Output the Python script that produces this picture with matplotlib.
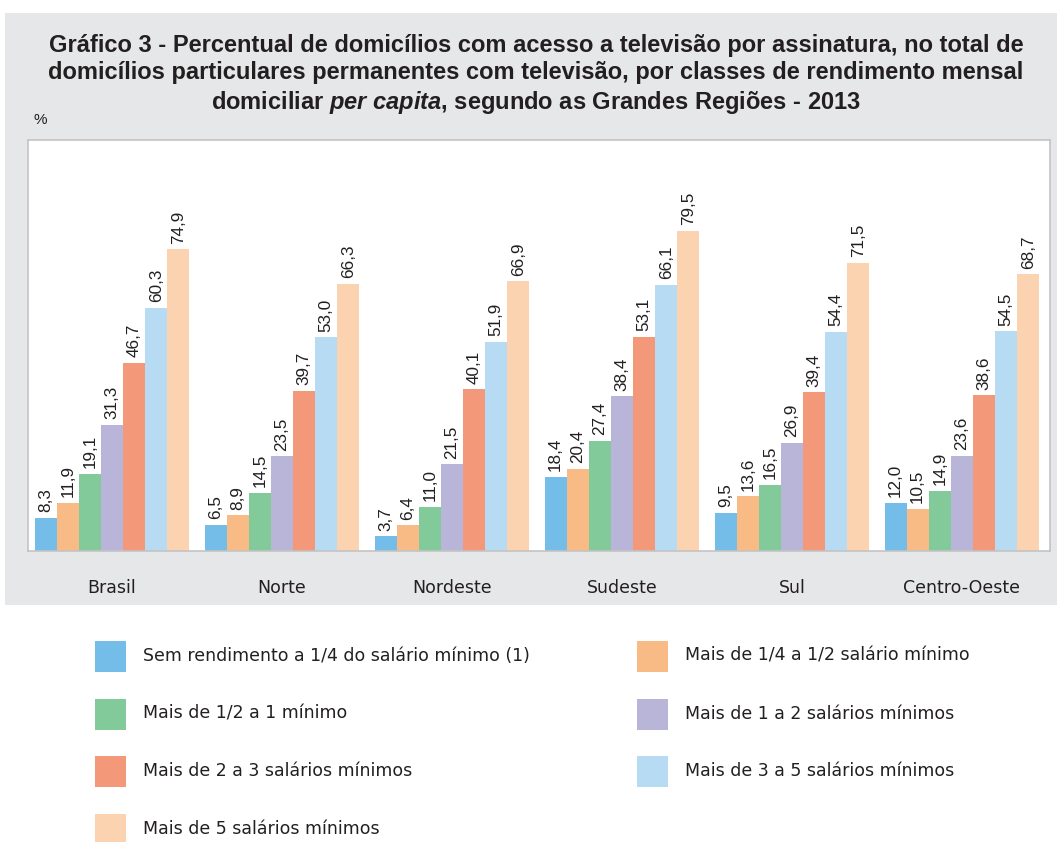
import matplotlib
matplotlib.use("Agg")
import matplotlib.pyplot as plt
from matplotlib.patches import Rectangle
import numpy as np

regions = ["Brasil", "Norte", "Nordeste", "Sudeste", "Sul", "Centro-Oeste"]
series_names = [
    "Sem rendimento a 1/4 do salário mínimo (1)",
    "Mais de 1/4 a 1/2 salário mínimo",
    "Mais de 1/2 a 1 mínimo",
    "Mais de 1 a 2 salários mínimos",
    "Mais de 2 a 3 salários mínimos",
    "Mais de 3 a 5 salários mínimos",
    "Mais de 5 salários mínimos",
]
s_ate_1_4 = [8.3, 6.5, 3.7, 18.4, 9.5, 12.0]
s_1_4_a_1_2 = [11.9, 8.9, 6.4, 20.4, 13.6, 10.5]
s_1_2_a_1 = [19.1, 14.5, 11.0, 27.4, 16.5, 14.9]
s_1_a_2 = [31.3, 23.5, 21.5, 38.4, 26.9, 23.6]
s_2_a_3 = [46.7, 39.7, 40.1, 53.1, 39.4, 38.6]
s_3_a_5 = [60.3, 53.0, 51.9, 66.1, 54.4, 54.5]
s_mais_5 = [74.9, 66.3, 66.9, 79.5, 71.5, 68.7]
series_values = [s_ate_1_4, s_1_4_a_1_2, s_1_2_a_1, s_1_a_2, s_2_a_3, s_3_a_5, s_mais_5]

colors = ["#74bde8", "#f9bb86", "#82ca9a", "#b9b5d9", "#f4987a", "#b7dbf3", "#fcd3b0"]

plt.rcParams["mathtext.fontset"] = "custom"
plt.rcParams["mathtext.bfit"] = "Liberation Sans:italic:bold"
plt.rcParams["mathtext.rm"] = "Liberation Sans"
plt.rcParams["mathtext.bf"] = "Liberation Sans:bold"
plt.rcParams["mathtext.it"] = "Liberation Sans:italic"

body_font = ["DejaVu Sans"]
label_font = ["Liberation Sans", "DejaVu Sans"]
title_font = ["Liberation Sans", "DejaVu Sans"]
text_color = "#231f20"

W, H = 1057, 842
fig = plt.figure(figsize=(W / 100, H / 100), dpi=100)
fig.patch.set_facecolor("white")

# grey panel
fig.patches.append(Rectangle((5 / W, 1 - 605 / H), 1 - 5 / W, (605 - 13) / H,
                             transform=fig.transFigure, facecolor="#e6e7e8",
                             edgecolor="none", zorder=-5))

ax = fig.add_axes([28 / W, 1 - 551 / H, (1050 - 28) / W, (551 - 140) / H])
ax.set_zorder(1)
ax.set_facecolor("white")
for sp in ax.spines.values():
    sp.set_color("#c4c4c4")
    sp.set_linewidth(1.2)

x = np.arange(len(regions))
bw = 0.13
n = len(series_values)
for i, (vals, c) in enumerate(zip(series_values, colors)):
    pos = x + (i - (n - 1) / 2) * bw
    ax.bar(pos, vals, width=bw, color=c, edgecolor="none", zorder=2)
    for px, v in zip(pos, vals):
        ax.annotate(f"{v:.1f}".replace(".", ","), (px, v), xytext=(0, 4),
                    textcoords="offset points", rotation=90, ha="center",
                    va="bottom", fontsize=12.3, family=label_font, color=text_color)

ax.set_xlim(-0.494, 5.518)
ax.set_ylim(0, 102)
ax.set_yticks([])
ax.set_xticks(x)
ax.set_xticklabels(regions, fontsize=12.5, family=body_font, color=text_color)
ax.tick_params(axis="x", length=0, pad=20)

# title
fig.text(536 / W, 1 - 75 / H,
         "Gráfico 3 - Percentual de domicílios com acesso a televisão por assinatura, no total de\n"
         "domicílios particulares permanentes com televisão, por classes de rendimento mensal\n"
         "domiciliar $\\mathbfit{per\\ capita}$, segundo as Grandes Regiões - 2013",
         ha="center", va="center", fontsize=17, fontweight="bold",
         family=title_font, color=text_color, linespacing=1.25)
fig.text(34 / W, 1 - 120 / H, "%", ha="left", va="center", fontsize=11,
         family=title_font, color=text_color)

# legend
left_items = [0, 2, 4, 6]
right_items = [1, 3, 5]
row_y = [656, 714, 771, 829]
sq = 31
for col_items, sx, tx in [(left_items, 95, 143), (right_items, 637, 685)]:
    for r, idx in enumerate(col_items):
        yc = row_y[r]
        fig.patches.append(Rectangle((sx / W, 1 - (yc + sq / 2) / H), sq / W, sq / H,
                                     transform=fig.transFigure, facecolor=colors[idx],
                                     edgecolor="none"))
        fig.text(tx / W, 1 - yc / H, series_names[idx], ha="left", va="center",
                 fontsize=12.5, family=body_font, color=text_color)

fig.savefig("out.png", dpi=100, facecolor="white")
